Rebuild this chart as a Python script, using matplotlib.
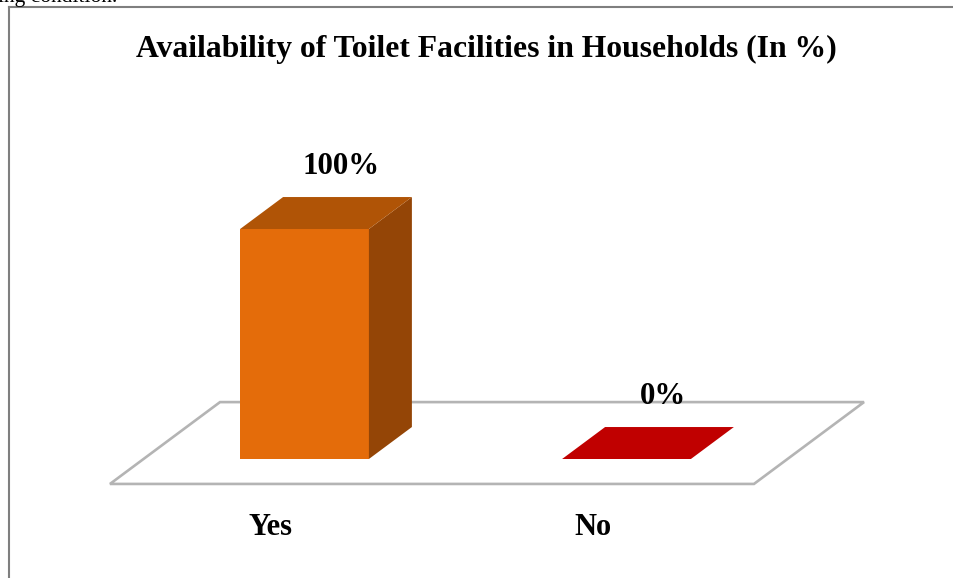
import matplotlib
matplotlib.use("Agg")
import matplotlib.pyplot as plt
from matplotlib.patches import Polygon
from matplotlib.lines import Line2D

# ---- data ----
categories = ["Yes", "No"]
values = [100, 0]
value_labels = ["100%", "0%"]
title = "Availability of Toilet Facilities in Households (In %)"

# ---- style ----
front_colors = ["#E46C0A", "#C00000"]
top_colors = ["#B05406", "#C00000"]
side_colors = ["#944506", "#8F0000"]
floor_edge = "#B4B4B4"
serif = ["Liberation Serif", "DejaVu Serif"]

W, H, DPI = 954, 578, 100
fig = plt.figure(figsize=(W / DPI, H / DPI), dpi=DPI)
fig.patch.set_facecolor("white")

ax = fig.add_axes([0, 0, 1, 1])
ax.set_axis_off()
ax.set_xlim(-0.9457, 2.0171)
ax.set_ylim(-51.74, 199.57)

bar_w = 0.4
# oblique depth of one bar, in data units
DX, DY = 0.1335, 13.9
# floor extends in front of and behind the bars (in bar-depth units)
floor_front, floor_back = -0.78, 1.78

x = list(range(len(categories)))

# floor plane
fl, fr = x[0] - 0.5, x[-1] + 0.5
floor = Polygon(
    [(fl + DX * floor_front, DY * floor_front),
     (fr + DX * floor_front, DY * floor_front),
     (fr + DX * floor_back, DY * floor_back),
     (fl + DX * floor_back, DY * floor_back)],
    closed=True, facecolor="white", edgecolor=floor_edge, lw=1.9,
    joinstyle="miter", zorder=1)
ax.add_patch(floor)

# bars
for xi, v, fc, tc, sc in zip(x, values, front_colors, top_colors, side_colors):
    l, r = xi - bar_w / 2, xi + bar_w / 2
    if v > 0:
        ax.add_patch(Polygon([(l, 0), (r, 0), (r, v), (l, v)],
                             closed=True, facecolor=fc, edgecolor="none", zorder=3))
        ax.add_patch(Polygon([(r, 0), (r + DX, DY), (r + DX, v + DY), (r, v)],
                             closed=True, facecolor=sc, edgecolor="none", zorder=3))
        top_c = tc
    else:
        top_c = fc
    ax.add_patch(Polygon([(l, v), (r, v), (r + DX, v + DY), (l + DX, v + DY)],
                         closed=True, facecolor=top_c, edgecolor="none", zorder=3))

# value labels above the bars
for xi, v, lab in zip(x, values, value_labels):
    ax.text(xi + 0.85 * DX, v + DY + 10, lab, ha="center", va="baseline",
            fontsize=22.3, fontweight="bold", family=serif, color="black", zorder=5)

# category labels in front of the floor
for xi, cat in zip(x, categories):
    ax.text(xi + DX * floor_front, -33.0, cat, ha="center", va="baseline",
            fontsize=22, fontweight="bold", family=serif, color="black", zorder=5)

# chart title
fig.text(486 / W, 1 - 57 / H, title, ha="center", va="baseline",
         fontsize=22.8, fontweight="bold", family=serif, color="black")

# surrounding frame (left and top edges)
fig.add_artist(Line2D([9 / W, 9 / W], [0, 1 - 7 / H], transform=fig.transFigure,
                      color="#7F7F7F", lw=1.5))
fig.add_artist(Line2D([9 / W, 1], [1 - 7 / H, 1 - 7 / H], transform=fig.transFigure,
                      color="#7F7F7F", lw=1.5))

# running text line above the frame
fig.text(-2 / W, 1 - 2 / H, "ing condition.", ha="left", va="baseline",
         fontsize=15.5, family=serif, color="black")

fig.savefig("out.png", dpi=DPI, facecolor="white")
